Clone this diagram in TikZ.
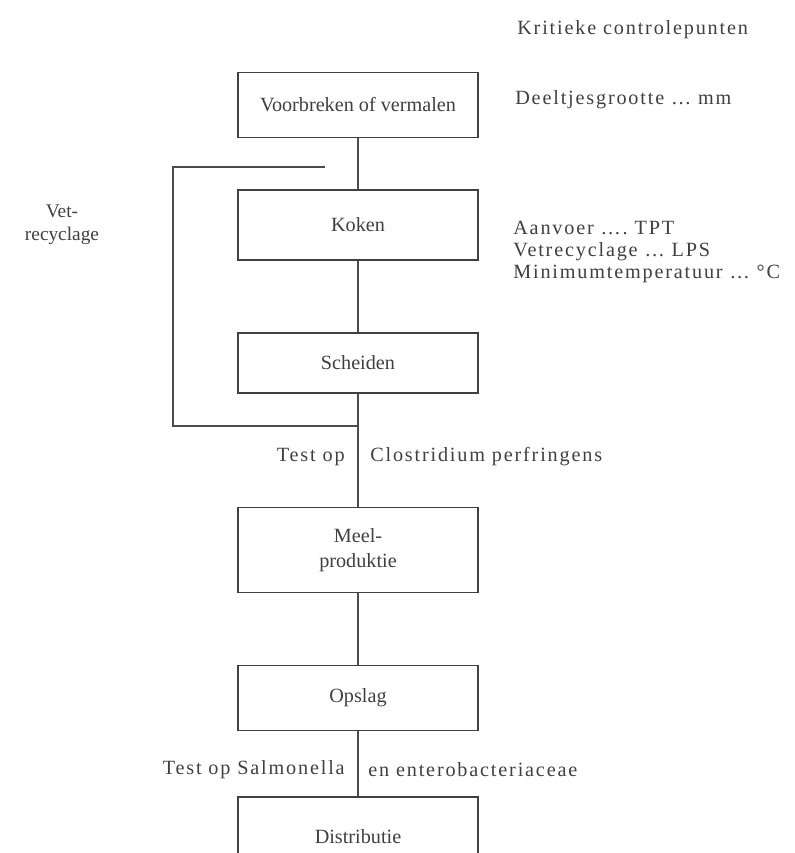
\documentclass[tikz,border=0pt]{standalone}
\usepackage{fontspec}
\setmainfont{Liberation Serif}
\tikzset{
  stap/.style={draw=black!75, line width=0.8pt, minimum width=4.8cm, align=center, text=black!75, font=\fontsize{11.5}{14}\selectfont},
  tekst/.style={text=black!75, font=\fontsize{11.5}{12.4}\selectfont\addfontfeature{LetterSpace=9}, inner sep=0pt},
  lijn/.style={draw=black!70, line width=0.8pt}
}
\begin{document}
\begin{tikzpicture}[x=0.02cm,y=-0.02cm]
    \clip (0,0) rectangle (795,853);
    \fill[white] (0,0) rectangle (795,853);
    % processtappen
    \node[stap, minimum height=1.3cm] (voor) at (358,105) {Voorbreken of vermalen};
    \node[stap, minimum height=1.4cm] (koken) at (358,225) {Koken};
    \node[stap, minimum height=1.2cm] (scheiden) at (358,363) {Scheiden};
    \node[stap, minimum height=1.7cm] (meel) at (358,550) {Meel-\\produktie};
    \node[stap, minimum height=1.3cm] (opslag) at (358,698) {Opslag};
    \node[stap, minimum height=1.6cm] (distr) at (358,837) {Distributie};
    \draw[lijn] (voor)--(koken); \draw[lijn] (koken)--(scheiden);
    \draw[lijn] (scheiden)--(meel); \draw[lijn] (meel)--(opslag);
    \draw[lijn] (opslag)--(distr);
    % vetrecyclage
    \coordinate (fork) at (358,426); \coordinate (hoek) at (173,426);
    \coordinate (loopend) at (325,167);
    \draw[lijn] (fork)--(hoek)|-(loopend);
    \node[text=black!75, font=\fontsize{11}{13}\selectfont, align=center] (vet) at (62,225) {Vet-\\recyclage};
    % kritieke controlepunten
    \node[tekst, anchor=west] (kcp) at (517,30) {Kritieke controlepunten};
    \node[tekst, anchor=west] (deel) at (515,100) {Deeltjesgrootte \dots\ mm};
    \node[tekst, anchor=west, align=left] (crit) at (513,252) {Aanvoer \dots.\ TPT\\Vetrecyclage \dots\ LPS\\Minimumtemperatuur \dots\ °C};
    \node[tekst, anchor=east] (test1) at (345,457) {Test op};
    \node[tekst, anchor=west] (clos) at (370,457) {Clostridium perfringens};
    \node[tekst, anchor=east] (test2) at (345,770) {Test op Salmonella};
    \node[tekst, anchor=west] (entero) at (368,770) {en enterobacteriaceae};
\end{tikzpicture}
\end{document}
